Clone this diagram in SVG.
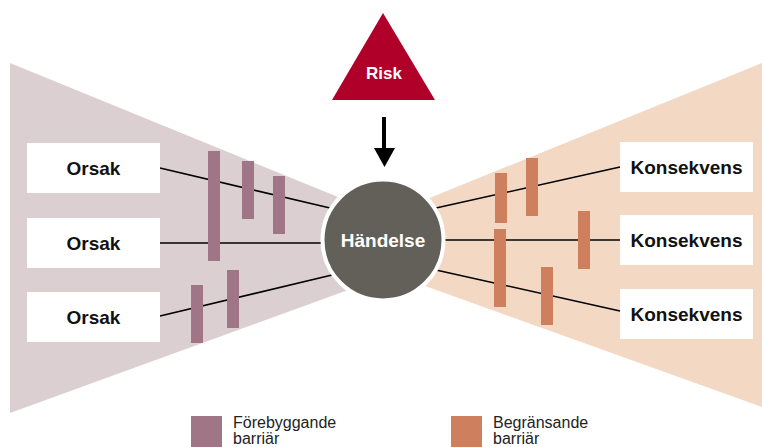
<svg xmlns="http://www.w3.org/2000/svg" width="762" height="447" viewBox="0 0 762 447">
<defs>
<style>
.box{fill:#fff}
.lbl{font-family:"Liberation Sans",Arial,sans-serif;font-weight:bold;font-size:19px;fill:#111;text-anchor:middle}
.wlbl{font-family:"Liberation Sans",Arial,sans-serif;font-weight:bold;fill:#fff;text-anchor:middle}
.leg{font-family:"Liberation Sans",Arial,sans-serif;font-size:16px;fill:#222}
.pb{fill:#a07585}
.mb{fill:#cd7f5e}
.ln{stroke:#000;stroke-width:1.6;fill:none}
</style>
</defs>
<g id="backgrounds">
<polygon points="10,63 370,210 370,282 10,413" fill="#dccfd2"/>
<polygon points="762,63 762,407 400,277 400,210" fill="#f3d9c4"/>
</g>
<g id="connectors">
<line class="ln" x1="160" y1="168" x2="330" y2="208"/>
<line class="ln" x1="160" y1="243" x2="330" y2="243"/>
<line class="ln" x1="160" y1="316" x2="332" y2="275"/>
<line class="ln" x1="436" y1="208" x2="620" y2="167"/>
<line class="ln" x1="440" y1="240" x2="620" y2="240"/>
<line class="ln" x1="436" y1="270" x2="620" y2="311"/>
<line stroke="#000" stroke-width="4" x1="384" y1="117" x2="384" y2="150"/>
<polygon points="374,148 395,148 384.5,167" fill="#000"/>
</g>
<g id="barriers-preventive">
<rect class="pb" x="208" y="151" width="12" height="110"/>
<rect class="pb" x="242" y="161" width="12" height="58"/>
<rect class="pb" x="273" y="176" width="12" height="58"/>
<rect class="pb" x="191" y="285" width="12" height="58"/>
<rect class="pb" x="227" y="270" width="12" height="58"/>
</g>
<g id="barriers-mitigating">
<rect class="mb" x="495" y="173" width="12" height="50"/>
<rect class="mb" x="526" y="158" width="12" height="58"/>
<rect class="mb" x="578" y="211" width="12" height="58"/>
<rect class="mb" x="494" y="229" width="12" height="78"/>
<rect class="mb" x="541" y="267" width="12" height="58"/>
</g>
<g id="risk">
<polygon points="383,13 332,100 435,100" fill="#b0002a"/>
<text class="wlbl" x="384" y="79" font-size="17">Risk</text>
</g>
<g id="handelse">
<circle cx="383" cy="240" r="60.5" fill="#63605a" stroke="#fff" stroke-width="4"/>
<text class="wlbl" x="383" y="247" font-size="19">Händelse</text>
</g>
<g id="orsak1"><rect class="box" x="27" y="143" width="133" height="50"/><text class="lbl" x="93.5" y="174.5">Orsak</text></g>
<g id="orsak2"><rect class="box" x="27" y="218" width="133" height="50"/><text class="lbl" x="93.5" y="249.5">Orsak</text></g>
<g id="orsak3"><rect class="box" x="27" y="292" width="133" height="50"/><text class="lbl" x="93.5" y="323.5">Orsak</text></g>
<g id="konsekvens1"><rect class="box" x="620" y="142" width="133" height="50"/><text class="lbl" x="686.5" y="174">Konsekvens</text></g>
<g id="konsekvens2"><rect class="box" x="620" y="215" width="133" height="50"/><text class="lbl" x="686.5" y="247">Konsekvens</text></g>
<g id="konsekvens3"><rect class="box" x="620" y="289" width="133" height="50"/><text class="lbl" x="686.5" y="321">Konsekvens</text></g>
<g id="legend-preventive">
<rect class="pb" x="191" y="416" width="31" height="31"/>
<text class="leg" x="233" y="428">Förebyggande</text>
<text class="leg" x="233" y="444">barriär</text>
</g>
<g id="legend-mitigating">
<rect class="mb" x="451" y="416" width="31" height="31"/>
<text class="leg" x="493" y="428">Begränsande</text>
<text class="leg" x="493" y="444">barriär</text>
</g>
</svg>
